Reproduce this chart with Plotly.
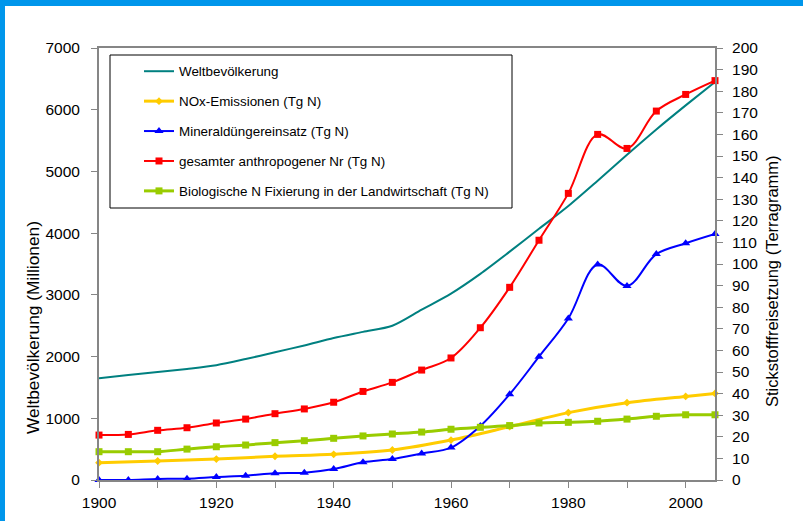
import plotly.graph_objects as go

years5 = [1900, 1905, 1910, 1915, 1920, 1925, 1930, 1935, 1940, 1945, 1950,
          1955, 1960, 1965, 1970, 1975, 1980, 1985, 1990, 1995, 2000, 2005]
years10 = [1900, 1910, 1920, 1930, 1940, 1950, 1960, 1970, 1980, 1990, 2000, 2005]

population = [1650, 1700, 1750, 1800, 1860, 1960, 2070, 2180, 2300, 2400, 2500,
              2760, 3020, 3340, 3700, 4070, 4440, 4850, 5270, 5680, 6070, 6450]
nox = [8, 8.8, 9.7, 11, 11.9, 13.9, 18.5, 24.7, 31.2, 35.8, 38.7, 40.1]
fertilizer = [0, 0, 0.5, 0.6, 1.4, 2, 3.1, 3.4, 5.1, 8.2, 9.7,
              12.3, 15, 25, 39.7, 57.1, 74.8, 99.8, 89.8, 104.6, 109.6, 113.9]
total_nr = [20.8, 21.1, 23, 24.2, 26.4, 28.2, 30.7, 32.9, 36, 41, 45.2,
            50.9, 56.5, 70.5, 89.2, 111, 132.7, 160, 153.5, 170.8, 178.5, 184.9]
bnf = [13.1, 13.1, 13.1, 14.3, 15.4, 16.2, 17.3, 18.2, 19.3, 20.4, 21.3,
       22.2, 23.5, 24.4, 25.2, 26.4, 26.7, 27.2, 28.2, 29.5, 30.2, 30.2]

names = ["Weltbevölkerung", "NOx-Emissionen (Tg N)", "Mineraldüngereinsatz (Tg N)",
         "gesamter anthropogener Nr (Tg N)",
         "Biologische N Fixierung in der Landwirtschaft (Tg N)"]
left_title = "Weltbevölkerung (Millionen)"
right_title = "Stickstofffreisetzung (Terragramm)"

FONT = "Liberation Sans, Arial, sans-serif"
AX = "#868686"

fig = go.Figure()
fig.add_trace(go.Scatter(x=years5, y=population, name=names[0], mode="lines",
                         line=dict(color="#008080", width=2, shape="spline", smoothing=0.8),
                         legendgroup="a", cliponaxis=False))
fig.add_trace(go.Scatter(x=years10, y=nox, name=names[1], mode="lines+markers", yaxis="y2",
                         line=dict(color="#FFCC00", width=3, shape="spline"),
                         marker=dict(symbol="diamond", size=6, color="#FFCC00"),
                         legendgroup="b", cliponaxis=False))
fig.add_trace(go.Scatter(x=years5, y=fertilizer, name=names[2], mode="lines+markers", yaxis="y2",
                         line=dict(color="#0000FF", width=2, shape="spline"),
                         marker=dict(symbol="triangle-up", size=8, color="#0000FF"),
                         legendgroup="c", cliponaxis=False))
fig.add_trace(go.Scatter(x=years5, y=total_nr, name=names[3], mode="lines+markers", yaxis="y2",
                         line=dict(color="#FF0000", width=2, shape="spline"),
                         marker=dict(symbol="square", size=7, color="#FF0000"),
                         legendgroup="d", cliponaxis=False))
fig.add_trace(go.Scatter(x=years5, y=bnf, name=names[4], mode="lines+markers", yaxis="y2",
                         line=dict(color="#99CC00", width=3, shape="spline"),
                         marker=dict(symbol="square", size=7, color="#99CC00"),
                         legendgroup="e", cliponaxis=False))

L, R, T, B = 99, 88, 48, 41
W, H = 803, 521
PW, PH = W - L - R, H - T - B


def px(x):
    return (x - L) / PW


def py(y):
    return (H - B - y) / PH


shapes = [
    dict(type="rect", xref="paper", yref="paper", x0=px(110), x1=px(512), y0=py(208), y1=py(55),
         line=dict(color="#000000", width=1), fillcolor="white", layer="below"),
    dict(type="rect", xref="paper", yref="paper", x0=px(0), x1=px(5), y0=py(W), y1=py(0),
         line=dict(width=0), fillcolor="#0096EB", layer="above"),
    dict(type="rect", xref="paper", yref="paper", x0=px(0), x1=px(W), y0=py(6), y1=py(0),
         line=dict(width=0), fillcolor="#0096EB", layer="above"),
]

annotations = [
    dict(text=left_title, xref="paper", yref="paper", x=px(33), y=py(328),
         xanchor="center", yanchor="middle", textangle=-90, showarrow=False,
         font=dict(family=FONT, size=17.3, color="#000000")),
    dict(text=right_title, xref="paper", yref="paper", x=px(772), y=py(281),
         xanchor="center", yanchor="middle", textangle=-90, showarrow=False,
         font=dict(family=FONT, size=16.5, color="#000000")),
]

fig.update_layout(
    width=W, height=H,
    margin=dict(l=L, r=R, t=T, b=B, autoexpand=False),
    paper_bgcolor="white", plot_bgcolor="white",
    font=dict(family=FONT, size=15.5, color="#000000"),
    showlegend=True,
    legend=dict(x=px(139), y=py(56), xanchor="left", yanchor="top",
                bgcolor="rgba(0,0,0,0)", borderwidth=0,
                font=dict(family=FONT, size=13.4, color="#000000"),
                traceorder="grouped", tracegroupgap=9.5),
    xaxis=dict(range=[1900, 2005], tickmode="array",
               tickvals=[1900, 1910, 1920, 1930, 1940, 1950, 1960, 1970, 1980, 1990, 2000],
               ticktext=["1900", "", "1920", "", "1940", "", "1960", "", "1980", "", "2000"],
               showline=True, linecolor=AX, linewidth=2, mirror=True,
               ticks="outside", ticklen=6, tickcolor=AX, tickwidth=1,
               showgrid=False, zeroline=False, ticklabelstandoff=1),
    yaxis=dict(range=[0, 7000], dtick=1000, showline=True, linecolor=AX, linewidth=2,
               ticks="outside", ticklen=6, tickcolor=AX, tickwidth=1,
               showgrid=False, zeroline=False, ticklabelstandoff=8),
    yaxis2=dict(range=[0, 200], dtick=10, overlaying="y", side="right",
                showline=True, linecolor=AX, linewidth=2,
                ticks="outside", ticklen=6, tickcolor=AX, tickwidth=1,
                showgrid=False, zeroline=False, ticklabelstandoff=6),
    shapes=shapes,
    annotations=annotations,
)

fig.write_html("out.html", config={"displayModeBar": False},
               post_script="document.body.style.margin='0';")
